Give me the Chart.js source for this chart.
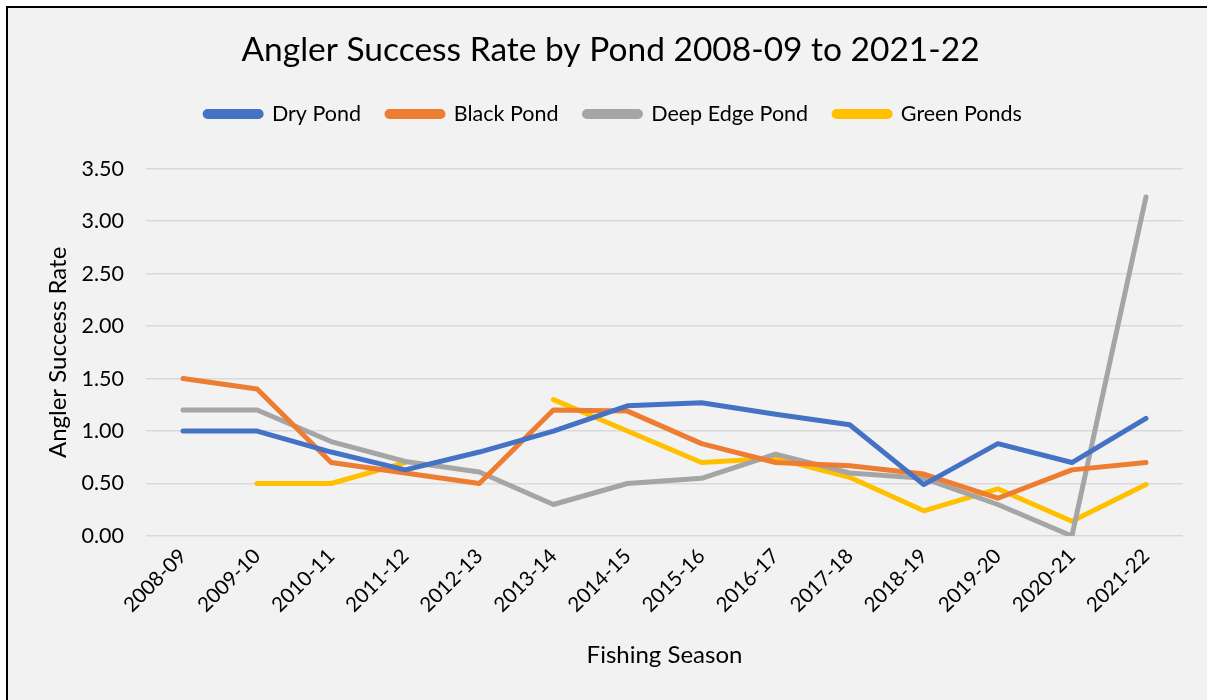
<!DOCTYPE html>
<html>
<head>
<meta charset="utf-8">
<script src="https://cdn.jsdelivr.net/npm/chart.js@4/dist/chart.umd.min.js"></script>
<style>
  html, body { margin: 0; padding: 0; background: #ffffff; }
  #wrap { position: absolute; left: 0; top: 0; width: 1207px; height: 700px; }
</style>
</head>
<body>
<div id="wrap"><canvas id="chart" width="1207" height="700"></canvas></div>
<script>
// fishing seasons (x categories)
var Seasons = ['2008-09', '2009-10', '2010-11', '2011-12', '2012-13', '2013-14', '2014-15',
               '2015-16', '2016-17', '2017-18', '2018-19', '2019-20', '2020-21', '2021-22'];

// angler success rate per pond
var DryPond      = [1.00, 1.00, 0.80, 0.63, 0.80, 1.00, 1.24, 1.27, 1.16, 1.06, 0.49, 0.88, 0.70, 1.12];
var BlackPond    = [1.50, 1.40, 0.70, 0.60, 0.50, 1.20, 1.19, 0.88, 0.70, 0.67, 0.59, 0.36, 0.63, 0.70];
var DeepEdgePond = [1.20, 1.20, 0.90, 0.71, 0.61, 0.30, 0.50, 0.55, 0.78, 0.60, 0.55, 0.30, 0.00, 3.23];
var GreenPonds   = [null, 0.50, 0.50, 0.70, null, 1.30, 1.00, 0.70, 0.74, 0.56, 0.24, 0.45, 0.14, 0.49];

var SeriesNames  = ['Dry Pond', 'Black Pond', 'Deep Edge Pond', 'Green Ponds'];
var SeriesColors = ['#4472C4', '#ED7D31', '#A5A5A5', '#FFC000'];

var YTicksMin = 0, YTicksMax = 3.5, YTicksStep = 0.5;

var _font = 'Lato';

function makeDataset(_label, _color, _values) {
    return {
        label: _label,
        data: _values,
        borderColor: _color,
        backgroundColor: _color,
        borderWidth: 5,
        borderCapStyle: 'round',
        borderJoinStyle: 'round',
        pointRadius: 0,
        pointHoverRadius: 0,
        tension: 0,
        spanGaps: false,
        fill: false
    };
}

// frame + grey background like the Excel chart area
var frame = {
    id: 'frame',
    beforeDraw: function (chart) {
        var ctx = chart.ctx;
        ctx.save();
        ctx.fillStyle = '#ffffff';
        ctx.fillRect(0, 0, chart.width, chart.height);
        ctx.fillStyle = '#f2f2f2';
        ctx.fillRect(7, 7, chart.width, chart.height);
        ctx.strokeStyle = '#000000';
        ctx.lineWidth = 2;
        ctx.strokeRect(7, 7, chart.width + 10, chart.height + 10);
        ctx.restore();
    }
};

// Excel centres title/legend a bit right of the plot and leaves more room under the legend
var headerTweak = {
    id: 'headerTweak',
    beforeInit: function (chart) {
        var _legend = chart.legend;
        var _fit = _legend.fit;
        _legend.fit = function () {
            _fit.apply(this, arguments);
            this.height += 39;
        };
        var shifts = [[chart.legend, 18, 5], [chart.titleBlock, 15, 0]];
        shifts.forEach(function (s) {
            var box = s[0], dx = s[1], dy = s[2];
            var _draw = box.draw;
            box.draw = function () {
                this.ctx.save();
                this.ctx.translate(dx, dy);
                _draw.apply(this, arguments);
                this.ctx.restore();
            };
        });
    }
};

var allValues = [DryPond, BlackPond, DeepEdgePond, GreenPonds];
var datasets = [];
for (var i = 0; i < SeriesNames.length; i++) {
    datasets.push(makeDataset(SeriesNames[i], SeriesColors[i], allValues[i]));
}

var ctx = document.getElementById('chart');
var AnglerChart = new Chart(ctx, {
    type: 'line',
    data: { labels: Seasons, datasets: datasets },
    plugins: [frame, headerTweak],
    options: {
        responsive: false,
        animation: false,
        devicePixelRatio: 1,
        layout: { padding: { left: 8, right: 24, top: 8, bottom: 8 } },
        plugins: {
            tooltip: { enabled: false },
            title: {
                display: true,
                text: 'Angler Success Rate by Pond 2008-09 to 2021-22',
                color: '#000000',
                font: { family: _font, size: 33.5, weight: 'normal' },
                padding: { top: 22, bottom: 2 }
            },
            legend: {
                display: true,
                position: 'top',
                labels: {
                    color: '#000000',
                    font: { family: _font, size: 21.5 },
                    boxWidth: 56,
                    boxHeight: 5,
                    padding: 26,
                    useBorderRadius: true,
                    borderRadius: 2.5
                }
            }
        },
        scales: {
            x: {
                offset: true,
                grid: { display: false, drawTicks: false },
                border: { display: false },
                ticks: {
                    color: '#000000',
                    font: { family: _font, size: 20.5 },
                    minRotation: 45,
                    maxRotation: 45,
                    autoSkip: false,
                    padding: 8
                },
                title: {
                    display: true,
                    text: 'Fishing Season',
                    color: '#000000',
                    font: { family: _font, size: 24 },
                    padding: { top: 0, bottom: 22 }
                },
                afterFit: function (scale) { scale.height = 156; }
            },
            y: {
                min: YTicksMin,
                max: YTicksMax,
                grid: { color: '#d9d9d9', lineWidth: 1.5, drawTicks: false },
                border: { display: false },
                ticks: {
                    stepSize: YTicksStep,
                    color: '#000000',
                    font: { family: _font, size: 21.5 },
                    padding: 22,
                    callback: function (v) { return v.toFixed(2); }
                },
                title: {
                    display: true,
                    text: 'Angler Success Rate',
                    color: '#000000',
                    font: { family: _font, size: 24 },
                    padding: { top: 36, bottom: 0 }
                },
                afterFit: function (scale) { scale.width = 138; }
            }
        }
    }
});
</script>
</body>
</html>
